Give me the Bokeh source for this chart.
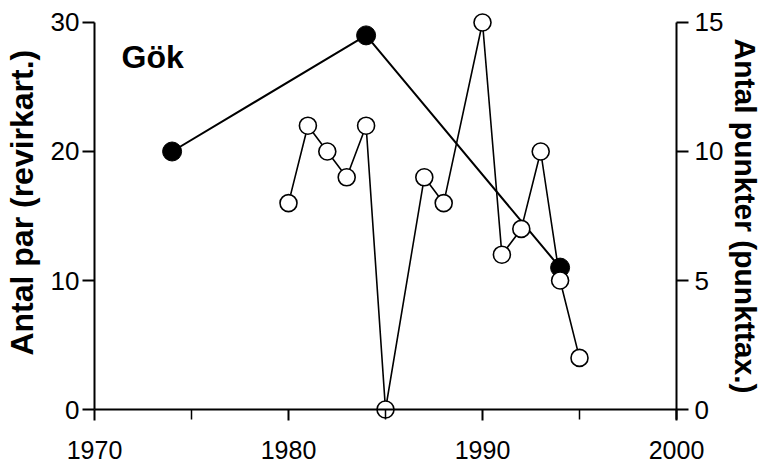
from bokeh.plotting import figure
from bokeh.models import Range1d, LinearAxis, FixedTicker, Span, Label
from bokeh.embed import file_html
from bokeh.resources import INLINE

# --- data ---
years_rev = [1974, 1984, 1994]          # revirkartering (left axis)
par_rev = [20, 29, 11]
years_pt = [1980, 1981, 1982, 1983, 1984, 1985, 1987, 1988, 1990, 1991, 1992, 1993, 1994, 1995]
punkter = [8, 11, 10, 9, 11, 0, 9, 8, 15, 6, 7, 10, 5, 2]   # punkttaxering (right axis)
x_ticks = [1970, 1980, 1990, 2000]
x_minor = [1975, 1985, 1995]
left_ticks = [0, 10, 20, 30]
right_ticks = [0, 5, 10, 15]
title_text = "Gök"
left_label = "Antal par (revirkart.)"
right_label = "Antal punkter (punkttax.)"

FONT = "Liberation Sans"
NB = "\u00a0"

p = figure(width=765, height=466, output_backend="svg", toolbar_location=None,
           x_range=Range1d(1970, 2000), y_range=Range1d(-0.775, 30.775),
           min_border_left=93, min_border_right=83, min_border_top=12, min_border_bottom=47)
p.extra_y_ranges = {"pt": Range1d(-0.3875, 15.3875)}
p.xgrid.visible = False
p.ygrid.visible = False
p.outline_line_color = None
p.background_fill_color = "white"
p.border_fill_color = "white"

# x axis
xa = p.xaxis[0]
xa.ticker = FixedTicker(ticks=x_ticks, minor_ticks=x_minor)
xa.axis_line_color = None
xa.major_tick_in = 10
xa.major_tick_out = 1
xa.minor_tick_in = 10
xa.minor_tick_out = 0
xa.major_tick_line_width = 2
xa.minor_tick_line_width = 1.5
xa.major_tick_line_color = "black"
xa.minor_tick_line_color = "black"
xa.major_label_text_font = FONT
xa.major_label_text_font_size = "25px"
xa.major_label_text_color = "black"
xa.major_label_standoff = 20

# left axis
ya = p.yaxis[0]
ya.ticker = FixedTicker(ticks=left_ticks)
ya.bounds = (0, 30)
ya.axis_line_width = 2
ya.axis_line_color = "black"
ya.major_tick_in = 0
ya.major_tick_out = 12
ya.major_tick_line_width = 2
ya.major_tick_line_color = "black"
ya.minor_tick_line_color = None
ya.major_label_text_font = FONT
ya.major_label_text_font_size = "26px"
ya.major_label_text_color = "black"
ya.major_label_standoff = 3
ya.axis_label = NB * 3 + left_label
ya.axis_label_text_font = FONT
ya.axis_label_text_font_size = "32px"
ya.axis_label_text_font_style = "bold"
ya.axis_label_text_color = "black"
ya.axis_label_standoff = 8

# right axis
ra = LinearAxis(y_range_name="pt", ticker=FixedTicker(ticks=right_ticks))
ra.bounds = (-0.3875, 15)
ra.axis_line_width = 2
ra.axis_line_color = "black"
ra.major_tick_in = 0
ra.major_tick_out = 12
ra.major_tick_line_width = 2
ra.major_tick_line_color = "black"
ra.minor_tick_line_color = None
ra.major_label_text_font = FONT
ra.major_label_text_font_size = "26px"
ra.major_label_text_color = "black"
ra.major_label_standoff = 6
ra.axis_label = right_label
ra.axis_label_text_font = FONT
ra.axis_label_text_font_size = "30px"
ra.axis_label_text_font_style = "bold"
ra.axis_label_text_color = "black"
ra.axis_label_standoff = 3
p.add_layout(ra, "right")

# x axis line at y = 0
p.add_layout(Span(location=0, dimension="width", line_color="black", line_width=2))

# filled series (left axis)
p.line(years_rev, par_rev, line_color="black", line_width=2)
p.scatter(years_rev, par_rev, size=19, fill_color="black", line_color="black")

# open series (right axis)
p.line(years_pt, punkter, y_range_name="pt", line_color="black", line_width=1.6)
p.scatter(years_pt, punkter, y_range_name="pt", size=17, fill_color="white",
          line_color="black", line_width=1.6)

# panel title
p.add_layout(Label(x=1970, y=27.29, x_offset=27, text=title_text,
                   text_font=FONT, text_font_size="32px", text_font_style="bold",
                   text_align="left", text_baseline="alphabetic", text_color="black"))

open("out.html", "w").write(file_html(p, INLINE))
